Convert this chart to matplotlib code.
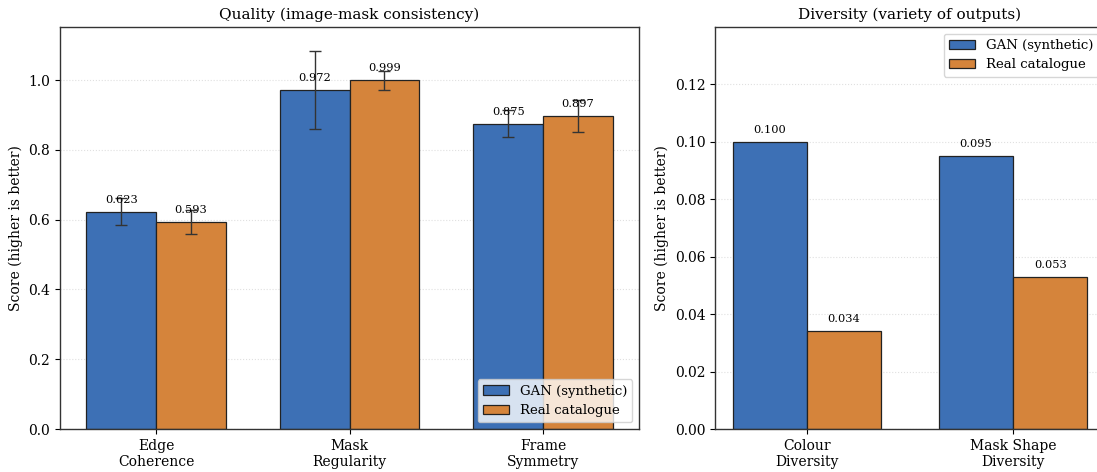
import matplotlib
matplotlib.use("Agg")
import matplotlib.pyplot as plt
import numpy as np

plt.rcParams['font.family'] = 'DejaVu Serif'

# quality metrics (mean +- std)
quality_labels = ["Edge\nCoherence", "Mask\nRegularity", "Frame\nSymmetry"]
quality_gan = [0.623, 0.972, 0.875]
quality_gan_err = [0.038, 0.112, 0.038]
quality_real = [0.593, 0.999, 0.897]
quality_real_err = [0.035, 0.028, 0.047]

# diversity metrics
diversity_labels = ["Colour\nDiversity", "Mask Shape\nDiversity"]
diversity_gan = [0.100, 0.095]
diversity_real = [0.034, 0.053]

series_names = ["GAN (synthetic)", "Real catalogue"]
c_gan = '#3d70b5'
c_real = '#d5843b'
width = 0.36

fig = plt.figure(figsize=(10.97, 4.72), dpi=100)
ax1 = fig.add_axes([0.0547, 0.0911, 0.5278, 0.8517])
ax2 = fig.add_axes([0.6518, 0.0911, 0.3555, 0.8517])


def style_axis(ax):
    for s in ax.spines.values():
        s.set_color('#333333')
        s.set_linewidth(1.0)
    ax.yaxis.grid(True, linestyle=':', color='#e0e0e0', linewidth=0.8)
    ax.set_axisbelow(True)
    ax.tick_params(labelsize=10)
    ax.set_ylabel("Score (higher is better)", fontsize=10)


def label_bars(ax, bars, values):
    for b, v in zip(bars, values):
        ax.annotate(f"{v:.3f}", (b.get_x() + b.get_width() / 2, b.get_height()),
                    xytext=(0, 5), textcoords='offset points',
                    ha='center', va='bottom', fontsize=8.2)


# left: quality
x = np.arange(len(quality_labels))
err_kw = dict(ecolor='#333333', elinewidth=1.0, capsize=4, capthick=1.0)
b1 = ax1.bar(x - width / 2, quality_gan, width, yerr=quality_gan_err, color=c_gan,
             edgecolor='#222222', linewidth=0.9, label=series_names[0], error_kw=err_kw)
b2 = ax1.bar(x + width / 2, quality_real, width, yerr=quality_real_err, color=c_real,
             edgecolor='#222222', linewidth=0.9, label=series_names[1], error_kw=err_kw)
label_bars(ax1, b1, quality_gan)
label_bars(ax1, b2, quality_real)
ax1.set_xticks(x)
ax1.set_xticklabels(quality_labels, fontsize=10)
ax1.set_ylim(0, 1.152)
ax1.set_title("Quality (image-mask consistency)", fontsize=11)
style_axis(ax1)
ax1.legend(loc='lower right', fontsize=9.5)

# right: diversity
x2 = np.arange(len(diversity_labels))
b3 = ax2.bar(x2 - width / 2, diversity_gan, width, color=c_gan,
             edgecolor='#222222', linewidth=0.9, label=series_names[0])
b4 = ax2.bar(x2 + width / 2, diversity_real, width, color=c_real,
             edgecolor='#222222', linewidth=0.9, label=series_names[1])
label_bars(ax2, b3, diversity_gan)
label_bars(ax2, b4, diversity_real)
ax2.set_xticks(x2)
ax2.set_xticklabels(diversity_labels, fontsize=10)
ax2.set_ylim(0, 0.14)
ax2.set_yticks(np.arange(0, 0.121, 0.02))
ax2.set_title("Diversity (variety of outputs)", fontsize=11)
style_axis(ax2)
ax2.legend(loc='upper right', fontsize=9.5)

fig.savefig("out.png", dpi=100)
